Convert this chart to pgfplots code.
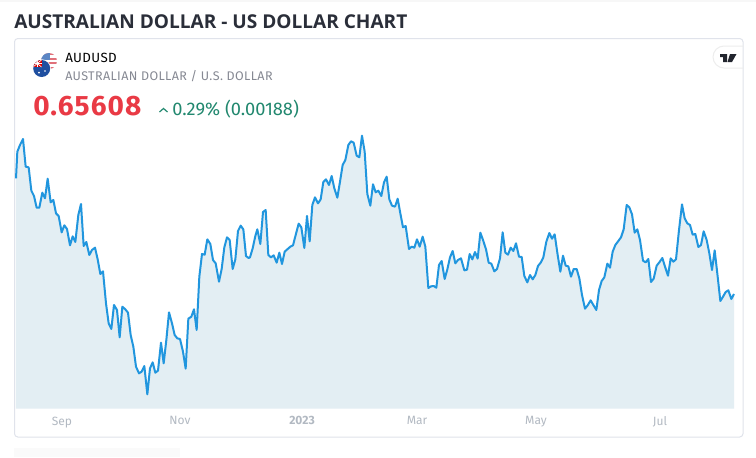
\documentclass[border=0pt]{standalone}
\usepackage{pgfplots}
\pgfplotsset{compat=1.18}
\usepackage{pgfplotstable}
\usepackage{fontspec}
\setmainfont{Fira Sans}
\newfontfamily\titlefont{Open Sans}
\newfontfamily\pricefont[LetterSpace=4]{Fira Sans}
\definecolor{linec}{HTML}{2196DE}
\definecolor{fillc}{HTML}{E3EEF3}
\definecolor{cardc}{HTML}{E0E3EB}
\definecolor{titlec}{HTML}{2A2E39}
\definecolor{subc}{HTML}{868993}
\definecolor{tickc}{HTML}{B2B9C2}
\definecolor{redc}{HTML}{E93A45}
\definecolor{greenc}{HTML}{22886F}
\definecolor{aublue}{HTML}{1F4FA0}
\definecolor{usred}{HTML}{E0707A}
\definecolor{usblue}{HTML}{5B86C4}
\pgfplotstableread{
x y
48 691
52 771
60 791
69 809
77 726
86 724
94 654
102 638
110 603
118 603
127 648
135 631
143 690
152 619
160 626
168 586
176 578
185 529
193 550
201 539
210 490
218 517
226 500
235 581
243 614
251 488
259 500
268 461
276 476
285 483
293 448
301 404
309 412
318 316
326 256
334 239
342 311
351 296
359 214
367 306
376 298
384 288
392 221
400 186
408 126
417 106
425 111
433 128
442 43
450 121
458 139
466 108
474 114
483 198
491 136
499 206
507 289
516 256
524 221
532 211
540 209
549 171
557 120
565 270
574 276
582 298
590 236
598 396
606 464
614 462
622 508
631 494
639 446
647 436
657 381
665 419
673 484
681 514
689 506
698 419
706 448
714 533
722 549
730 538
738 458
746 452
750 454
758 481
766 518
772 538
781 494
789 590
797 596
805 461
813 454
821 460
830 438
838 468
846 434
854 471
863 479
871 486
879 490
887 521
896 555
904 544
913 482
921 578
929 502
937 611
945 634
954 616
962 628
970 680
978 688
987 671
995 698
1003 661
1012 633
1020 681
1028 731
1036 746
1045 791
1053 802
1061 798
1070 759
1078 754
1086 819
1094 771
1102 644
1111 609
1119 673
1127 649
1135 654
1144 638
1152 679
1160 696
1168 628
1176 609
1185 606
1193 630
1201 586
1209 544
1217 548
1227 479
1235 486
1243 483
1251 508
1259 486
1268 516
1276 486
1285 362
1293 367
1301 368
1309 363
1317 431
1325 443
1334 389
1342 418
1350 454
1358 473
1366 436
1374 446
1383 451
1393 415
1401 417
1409 464
1417 448
1425 470
1433 450
1441 528
1449 506
1458 478
1466 438
1474 435
1483 412
1491 419
1500 451
1508 529
1516 468
1524 462
1532 483
1540 473
1548 496
1557 456
1565 455
1573 398
1582 379
1590 401
1598 388
1606 401
1614 428
1622 438
1630 454
1639 501
1648 527
1656 510
1664 523
1673 461
1681 411
1689 459
1697 429
1705 427
1713 396
1721 419
1730 419
1738 391
1746 341
1755 300
1763 310
1772 325
1780 311
1789 296
1797 356
1805 383
1813 394
1822 435
1830 423
1838 471
1846 491
1855 503
1863 514
1871 538
1880 611
1888 604
1896 583
1904 528
1912 538
1920 506
1929 444
1937 439
1945 449
1953 380
1961 390
1970 429
1978 439
1987 452
1995 426
2004 399
2012 451
2020 441
2028 448
2037 536
2046 613
2054 571
2062 556
2070 551
2078 522
2086 524
2095 485
2103 491
2111 532
2120 506
2128 466
2136 416
2144 475
2153 396
2161 323
2169 336
2177 350
2185 355
2194 329
2202 344
}\datatable
\begin{document}
\begin{tikzpicture}[x=0.75pt,y=-0.75pt]
\path[fill=white] (0,0) rectangle (756,457);
\path[fill=black!3] (0,0) rectangle (756,2);
\path[fill=black!2] (14,448) rectangle (180,457);
\draw[cardc,line width=0.75pt,rounded corners=2.5pt] (14.5,38.5) rectangle (743,437);
\node[anchor=base west,inner sep=0,text=titlec] at (14,28) {\titlefont\bfseries\fontsize{14.3pt}{16pt}\selectfont AUSTRALIAN DOLLAR - US DOLLAR CHART};
\node[anchor=base west,inner sep=0,text=black] at (65,62) {\fontsize{10pt}{12pt}\selectfont\addfontfeature{LetterSpace=3} AUDUSD};
\node[anchor=base west,inner sep=0,text=subc] at (65,80) {\fontsize{9.4pt}{11pt}\selectfont\addfontfeature{LetterSpace=3} AUSTRALIAN DOLLAR / U.S. DOLLAR};
\node[anchor=base west,inner sep=0,text=redc] at (33,115) {\pricefont\fontsize{21pt}{25pt}\selectfont\bfseries 0.65608};
\draw[greenc,line width=0.9pt] (159.5,112) -- (163.5,108.5) -- (167.5,112);
\node[anchor=base west,inner sep=0,text=greenc] at (172,115) {\fontsize{13.7pt}{16pt}\selectfont 0.29\% (0.00188)};
\begin{scope}
\clip (49,61) circle (8);
\fill[white] (40,52) rectangle (58,70);
\fill[usred] (40,53) rectangle (58,55);
\fill[usred] (40,57.5) rectangle (58,59.5);
\fill[usred] (40,62) rectangle (58,64);
\fill[usred] (40,66.5) rectangle (58,68.5);
\fill[usblue] (40,52) rectangle (50,60);
\end{scope}
\fill[white] (41.7,68.5) circle (9.2);
\fill[aublue] (41.7,68.5) circle (8.5);
\begin{scope}
\clip (41.7,68.5) circle (8.5);
\fill[red!85!black] (33,60) rectangle (41.5,67);
\draw[white,line width=0.5pt] (33,60) -- (41.5,67) (33,67) -- (41.5,60);
\draw[white,line width=0.8pt] (37.2,60) -- (37.2,67) (33,63.5) -- (41.5,63.5);
\fill[white] (45,71) circle (0.8) (39,72.5) circle (1);
\end{scope}
\draw[black!7,line width=0.75pt] (743,46) -- (724,46) arc[start angle=-90,end angle=-270,radius=11] -- (743,68);
\fill[titlec!80!black] (720,54) -- (727,54) -- (727,62) -- (723,62) -- (723,57) -- (720,57) -- cycle;
\fill[titlec!80!black] (730,54) -- (736.5,54) -- (732,62) -- (727.5,62) -- cycle;
\begin{axis}[
  at={(12pt,-306.5pt)},anchor=south west,
  width=538.5pt,height=216.5pt,scale only axis,
  xmin=48,xmax=2202,ymin=0,ymax=866,
  axis line style={draw=none},
  ytick=\empty,
  xtick={186,540,906,1251,1608,1980},
  xticklabels={Sep,Nov,\textbf{2023},Mar,May,Jul},
  xtick style={draw=none},
  tick label style={font=\fontsize{9pt}{11pt}\selectfont,text=tickc},
  xticklabel style={yshift=-2.5pt},
  clip=false,
]
\addplot[draw=none,fill=fillc] table[x=x,y=y]{\datatable} \closedcycle;
\addplot[linec,line width=1.5pt,no marks,line join=round] table[x=x,y=y]{\datatable};
\end{axis}
\end{tikzpicture}
\end{document}
